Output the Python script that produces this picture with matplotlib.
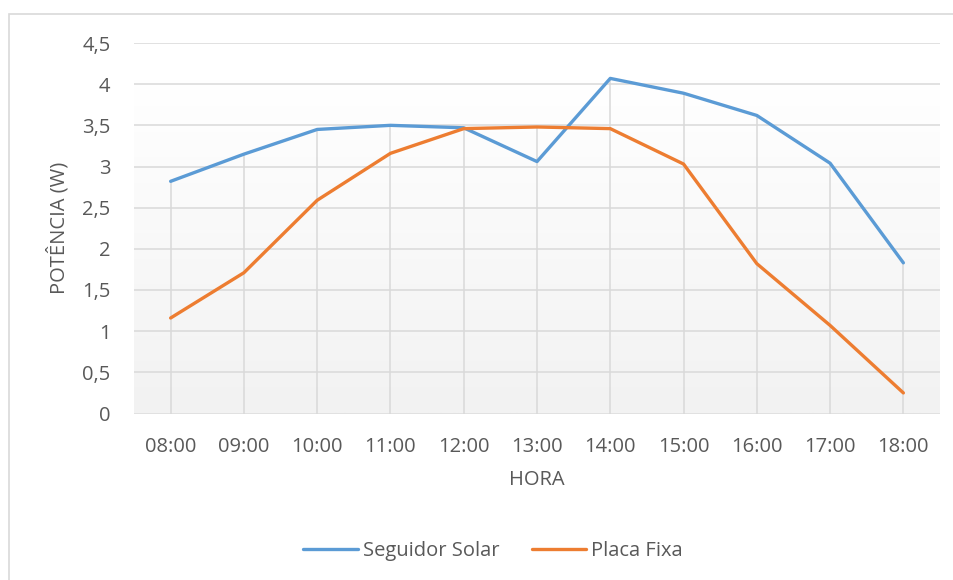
import numpy as np
import matplotlib.pyplot as plt
from matplotlib.patches import Rectangle
from matplotlib.colors import LinearSegmentedColormap

horas = ['08:00', '09:00', '10:00', '11:00', '12:00', '13:00',
         '14:00', '15:00', '16:00', '17:00', '18:00']
seguidor = [2.82, 3.15, 3.45, 3.50, 3.47, 3.06, 4.07, 3.89, 3.62, 3.04, 1.83]
placa = [1.16, 1.71, 2.59, 3.16, 3.46, 3.48, 3.46, 3.03, 1.82, 1.07, 0.25]
yticks = [0, 0.5, 1, 1.5, 2, 2.5, 3, 3.5, 4, 4.5]

plt.rcParams['font.family'] = ['Open Sans', 'DejaVu Sans']
txt = '#595959'
grid = '#d9d9d9'
fs = 14.5

fig = plt.figure(figsize=(9.54, 5.8), dpi=100)
ax = fig.add_axes([134 / 954, 1 - 413.5 / 580, 806 / 954, 370.5 / 580])

# chart area frame
fig.patches.append(Rectangle((9 / 954, -0.1), 1.2, 1 - 14 / 580 + 0.1,
                             transform=fig.transFigure, fill=False,
                             edgecolor=grid, linewidth=1.2, zorder=0))

x = np.arange(len(horas))
ax.set_xlim(-0.5, len(horas) - 0.5)
ax.set_ylim(0, 4.5)

# plot area gradient (white on top, light grey at the bottom)
g = np.clip(np.linspace(0, 1, 256) / 0.9, 0, 1)
g = np.vstack([g, g]).T
ax.imshow(g, extent=(-0.5, len(horas) - 0.5, 0, 4.5), aspect='auto',
          cmap=LinearSegmentedColormap.from_list('bg', ['#f2f2f2', '#ffffff']),
          origin='lower', zorder=0)

for t in yticks:
    ax.axhline(t, color=grid, linewidth=1.1, zorder=1)

# drop lines
top = np.maximum(seguidor, placa)
ax.vlines(x, 0, top, color=grid, linewidth=1.1, zorder=1)

ax.plot(x, seguidor, color='#5B9BD5', linewidth=2.4, label='Seguidor Solar',
        solid_capstyle='round', zorder=3)
ax.plot(x, placa, color='#ED7D31', linewidth=2.4, label='Placa Fixa',
        solid_capstyle='round', zorder=3)

ax.set_xticks(x)
ax.set_xticklabels(horas)
ax.set_yticks(yticks)
ax.set_yticklabels([str(v).replace('.', ',').replace(',0', '') for v in yticks])
ax.tick_params(length=0, labelsize=fs, colors=txt)
ax.tick_params(axis='x', pad=17)
ax.tick_params(axis='y', pad=17)
for s in ax.spines.values():
    s.set_visible(False)

ax.set_xlabel('HORA', fontsize=fs, color=txt, labelpad=9)
ax.set_ylabel('POTÊNCIA (W)', fontsize=fs, color=txt, labelpad=9)

fig.legend(loc='center', bbox_to_anchor=(493 / 954, 1 - 551 / 580), ncol=2,
           frameon=False, fontsize=fs, labelcolor=txt, handlelength=2.7,
           handletextpad=0.25, columnspacing=1.6)

fig.savefig('out.png', dpi=100)
